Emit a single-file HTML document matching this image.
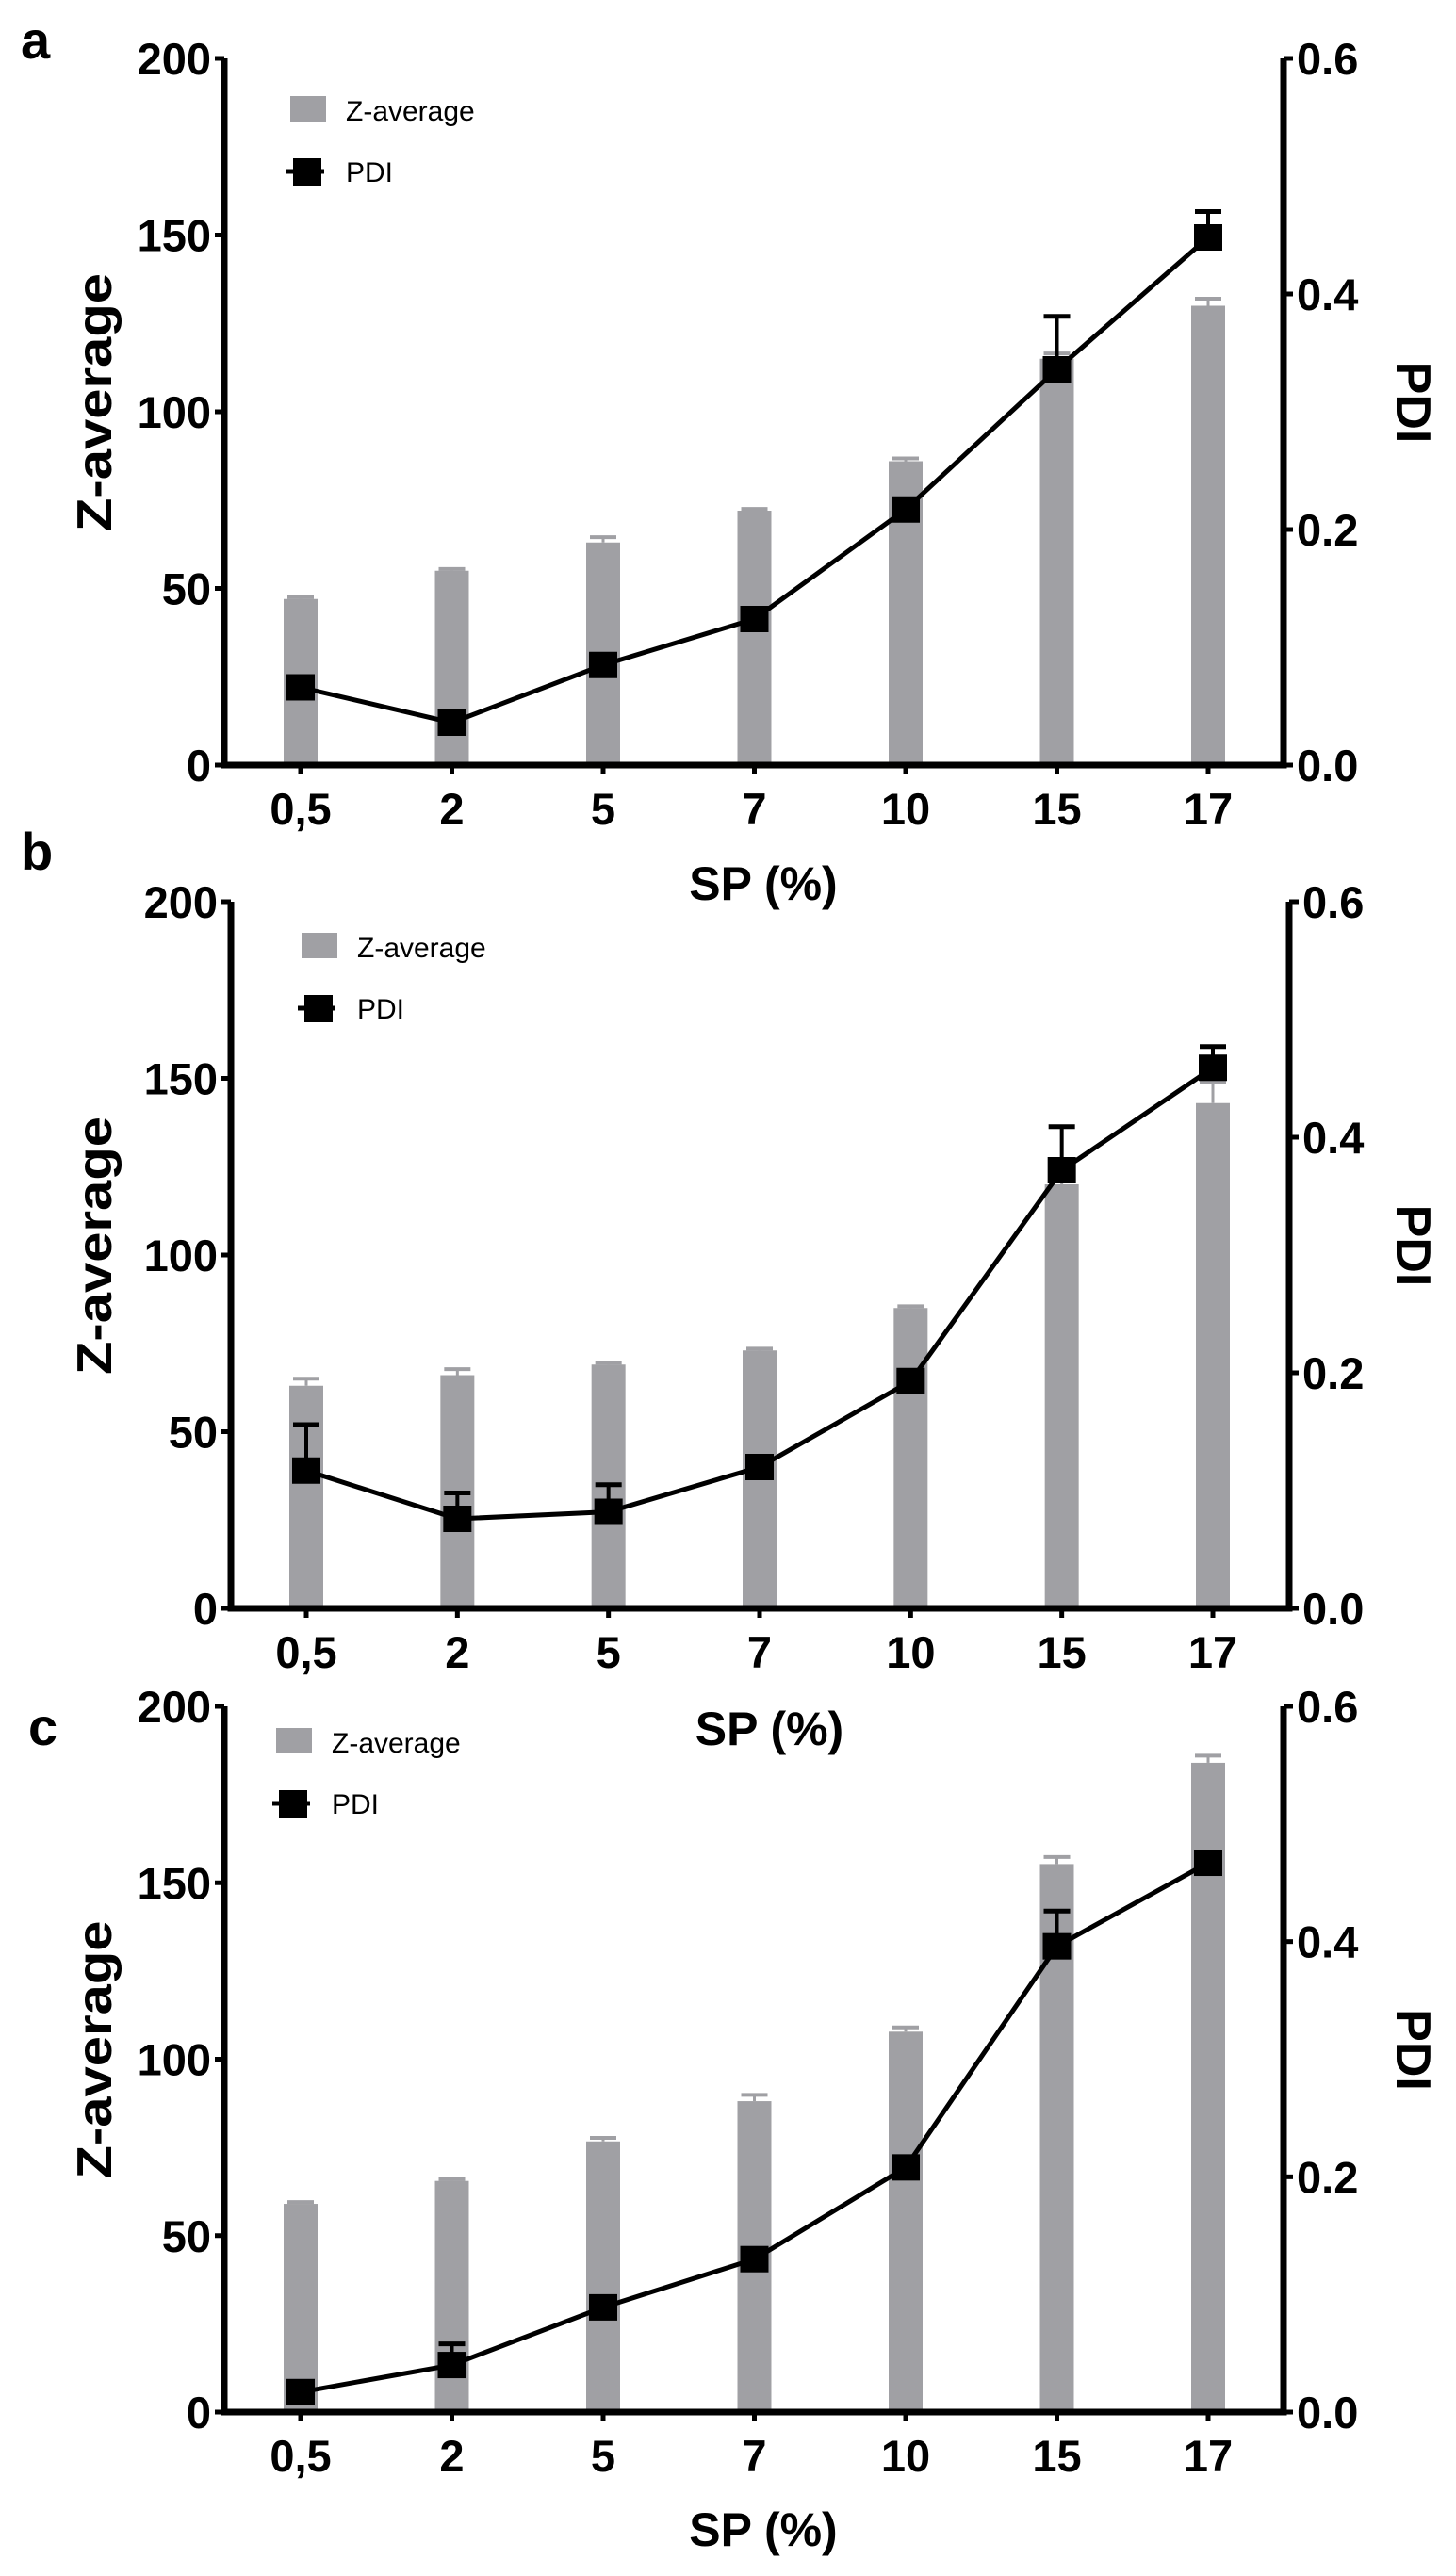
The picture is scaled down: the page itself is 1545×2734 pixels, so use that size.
<!DOCTYPE html>
<html><head><meta charset="utf-8">
<style>
html,body{margin:0;padding:0;background:#fff;}
svg{display:block;}
text{font-family:"Liberation Sans",Arial,sans-serif;}
</style></head>
<body>
<svg id="fig" width="1545" height="2734" viewBox="0 0 1545 2734" xmlns="http://www.w3.org/2000/svg"></svg>
<script>
const categories = ["0,5","2","5","7","10","15","17"];
const zA = [47,55,63,72,86,115,130];
const zAErr = [0.5,0.5,1.5,0.5,0.8,1.5,2];
const pdiA = [0.066,0.036,0.085,0.124,0.217,0.336,0.448];
const pdiAErr = [0.003,0.003,0.004,0.004,0.005,0.045,0.022];
const zB = [63,66,69,73,85,120,143];
const zBErr = [2,1.7,0.5,0.5,0.5,1,6];
const pdiB = [0.117,0.076,0.082,0.12,0.193,0.372,0.459];
const pdiBErr = [0.039,0.022,0.023,0.004,0.005,0.037,0.018];
const zC = [59,65.5,76.7,88.1,107.8,155.3,184];
const zCErr = [0.5,0.5,1,1.8,1.2,2,2];
const pdiC = [0.017,0.04,0.089,0.13,0.208,0.396,0.467];
const pdiCErr = [0.003,0.018,0.004,0.004,0.005,0.03,0.004];
const leftTicks = [0,50,100,150,200];
const rightTicks = ["0.0","0.2","0.4","0.6"];

const NS="http://www.w3.org/2000/svg";
const svg=document.getElementById('fig');
function el(tag,attrs,parent){const e=document.createElementNS(NS,tag);for(const k in attrs)e.setAttribute(k,attrs[k]);(parent||svg).appendChild(e);return e;}

function panel(cfg){
  const g=el('g',{});
  
  
  const L=cfg.left,R=cfg.right,T=cfg.top,B=cfg.bottom;
  const yZ=v=>B-(v/200)*(B-T);
  const yP=v=>B-(v/0.6)*(B-T);
  const step=(cfg.lastX-cfg.firstX)/(categories.length-1);
  const xC=i=>cfg.firstX+i*step;
  // bars
  categories.forEach((c,i)=>{
    const x=xC(i),top=yZ(cfg.z[i]);
    const eTop=yZ(cfg.z[i]+cfg.zErr[i]);
    const eb=el('line',{x1:x,x2:x,y1:top,y2:eTop,stroke:'#a0a0a4','stroke-width':3},g);
    
    
    const cap=el('line',{x1:x-14,x2:x+14,y1:eTop,y2:eTop,stroke:'#a0a0a4','stroke-width':4},g);
    
    
    const r=el('rect',{x:x-18,y:top,width:36,height:B-top,fill:'#a0a0a4'},g);
    
    
  });
  // line
  const pts=categories.map((c,i)=>xC(i)+','+yP(cfg.p[i])).join(' ');
  const pl=el('polyline',{points:pts,fill:'none',stroke:'#000','stroke-width':5},g);
  
  
  categories.forEach((c,i)=>{
    const x=xC(i),y=yP(cfg.p[i]),eT=yP(cfg.p[i]+cfg.pErr[i]);
    const e1=el('line',{x1:x,x2:x,y1:y,y2:eT,stroke:'#000','stroke-width':4},g);
    
    
    const e2=el('line',{x1:x-14,x2:x+14,y1:eT,y2:eT,stroke:'#000','stroke-width':5},g);
    
    
    const m=el('rect',{x:x-15,y:y-14,width:30,height:28,fill:'#000'},g);
    
    
  });
  // axes
  const ax=el('path',{d:`M${L},${T} V${B} H${R} V${T}`,fill:'none',stroke:'#000','stroke-width':7},g);
  
  
  leftTicks.forEach(v=>{
    const y=yZ(v);
    const t=el('line',{x1:L-10,x2:L,y1:y,y2:y,stroke:'#000','stroke-width':5},g);
    
    
    const tx=el('text',{x:L-14,y:y+17,'text-anchor':'end','font-size':47,'font-weight':'bold'},g);
    tx.textContent=v;
    
    
  });
  rightTicks.forEach(v=>{
    const y=yP(parseFloat(v));
    const t=el('line',{x1:R,x2:R+10,y1:y,y2:y,stroke:'#000','stroke-width':5},g);
    
    
    const tx=el('text',{x:R+14,y:y+17,'text-anchor':'start','font-size':47,'font-weight':'bold'},g);
    tx.textContent=v;
    
    
  });
  categories.forEach((c,i)=>{
    const x=xC(i);
    const t=el('line',{x1:x,x2:x,y1:B,y2:B+10,stroke:'#000','stroke-width':5},g);
    
    
    const tx=el('text',{x:x,y:B+63,'text-anchor':'middle','font-size':47,'font-weight':'bold'},g);
    tx.textContent=c;
    
    
  });
  const xt=el('text',{x:(L+R)/2+10,y:cfg.xTitleY,'text-anchor':'middle','font-size':50,'font-weight':'bold'},g);
  xt.textContent='SP (%)';
  
  
  const my=(T+B)/2;
  const yt=el('text',{x:0,y:0,transform:`translate(118,${my-10}) rotate(-90)`,'text-anchor':'middle','font-size':52,'font-weight':'bold',textLength:274,lengthAdjust:'spacingAndGlyphs'},g);
  yt.textContent='Z-average';
  
  
  const pt=el('text',{x:0,y:0,transform:`translate(1482,${my-10}) rotate(90)`,'text-anchor':'middle','font-size':52,'font-weight':'bold'},g);
  pt.textContent='PDI';
  
  
  const lt=el('text',{x:cfg.letterX,y:cfg.letterY,'font-size':56,'font-weight':'bold'},g);
  lt.textContent=cfg.letter;
  
  
  // legend
  const lx=cfg.legX,ly=cfg.legY;
  const sw=el('rect',{x:lx,y:ly,width:38,height:27,fill:'#a0a0a4'},g);
  
  
  const l1=el('text',{x:lx+59,y:ly+26,'font-size':30},g);
  l1.textContent='Z-average';
  
  
  const ml=el('line',{x1:lx-4,x2:lx+36,y1:ly+80,y2:ly+80,stroke:'#000','stroke-width':5},g);
  
  
  const mk=el('rect',{x:lx+3,y:ly+66,width:30,height:29,fill:'#000'},g);
  
  
  const l2=el('text',{x:lx+59,y:ly+91,'font-size':30},g);
  l2.textContent='PDI';
  
  
}

panel({letter:'a',left:238,right:1362,top:62,bottom:812,firstX:319,lastX:1282,z:zA,zErr:zAErr,p:pdiA,pErr:pdiAErr,xTitleY:955,letterX:22,letterY:62,legX:308,legY:102});
panel({letter:'b',left:245,right:1368,top:957,bottom:1707,firstX:325,lastX:1287,z:zB,zErr:zBErr,p:pdiB,pErr:pdiBErr,xTitleY:1852,letterX:22,letterY:923,legX:320,legY:990});
panel({letter:'c',left:238,right:1362,top:1811,bottom:2560,firstX:319,lastX:1282,z:zC,zErr:zCErr,p:pdiC,pErr:pdiCErr,xTitleY:2702,letterX:30,letterY:1852,legX:293,legY:1834});
</script>
</body></html>
